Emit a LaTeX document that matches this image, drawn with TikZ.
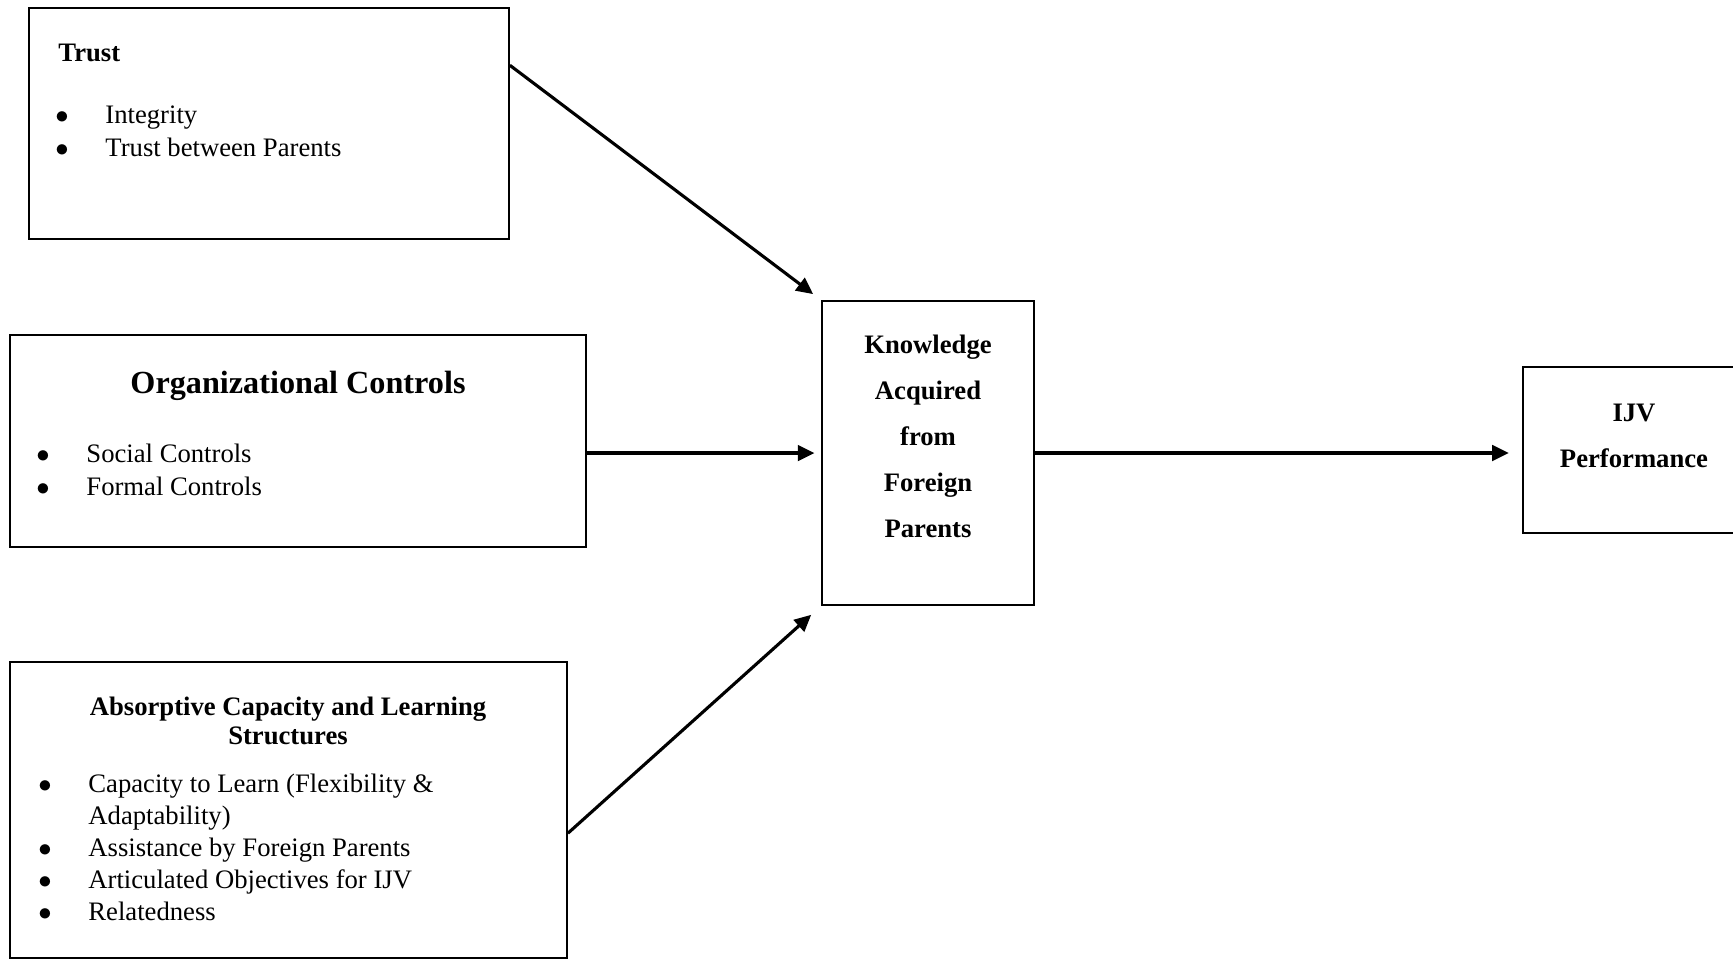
\documentclass[tikz,border=0pt]{standalone}
\usepackage{fontspec}
\setmainfont{Liberation Serif}
\usetikzlibrary{calc}
\usetikzlibrary{arrows.meta}
\newcommand{\bulletline}[1]{\makebox[22.5pt][l]{$\bullet$}#1}
\tikzset{
  block/.style={draw, line width=0.8pt, inner sep=0pt},
  body/.style={inner sep=0pt, font=\fontsize{12}{14.85}\selectfont},
  head/.style={inner sep=0pt, font=\fontsize{12}{13}\selectfont\bfseries},
  link/.style={line width=1.4pt, -{Triangle[length=7.5pt,width=7pt]}}
}

\begin{document}
\begin{tikzpicture}[x=0.45pt, y=-0.45pt]
    \useasboundingbox (0,0) rectangle (1733,964);
    %boxes
    \node[block, minimum width=216pt, minimum height=104pt] (trust) at (269,123.5) {};
    \node[block, minimum width=259.2pt, minimum height=95.4pt] (org) at (298,441) {};
    \node[block, minimum width=250.65pt, minimum height=133.2pt] (absorb) at (288.5,810) {};
    \node[block, minimum width=95.4pt, minimum height=136.8pt] (know) at (928,453) {};
    \node[block, minimum width=99.9pt, minimum height=74.7pt] (ijv) at (1634,450) {};
    %texts (base = last line)
    \node[head, anchor=base west] (trusttitle) at (58,61) {Trust};
    \node[body, anchor=base west, align=left] (trustitems) at (55,156)
        {\bulletline{Integrity}\\ \bulletline{Trust between Parents}};
    \node[head, anchor=base, font=\fontsize{14.5}{17}\selectfont\bfseries] (orgtitle) at (298,393) {Organizational Controls};
    \node[body, anchor=base west, align=left] (orgitems) at (36,495)
        {\bulletline{Social Controls}\\ \bulletline{Formal Controls}};
    \node[head, anchor=base, align=center] (absorbtitle) at (288,744)
        {Absorptive Capacity and Learning\\ Structures};
    \node[body, anchor=base west, align=left, font=\fontsize{12}{14.4}\selectfont] (absorbitems) at (38,920)
        {\bulletline{Capacity to Learn (Flexibility \&}\\ \hspace*{22.5pt}Adaptability)\\
         \bulletline{Assistance by Foreign Parents}\\ \bulletline{Articulated Objectives for IJV}\\
         \bulletline{Relatedness}};
    \node[head, anchor=base, align=center, font=\fontsize{12}{20.7}\selectfont\bfseries] (knowtext) at (928,537)
        {Knowledge\\ Acquired\\ from\\ Foreign\\ Parents};
    \node[head, anchor=base, align=center, font=\fontsize{12}{20.3}\selectfont\bfseries] (ijvtext) at (1634,467)
        {IJV\\ Performance};
    %links
    \draw[link, shorten >=4.5pt] ($(trust.north east)!0.25!(trust.south east)$) -- (know.north west);
    \draw[link, shorten >=3pt] (org.east |- know.west) -- (know.west);
    \draw[link, shorten >=6pt] ($(absorb.north east)!0.578!(absorb.south east)$) -- (know.south west);
    \draw[link, shorten >=6pt] (know.east) -- (know.east -| ijv.west);
\end{tikzpicture}
\end{document}
